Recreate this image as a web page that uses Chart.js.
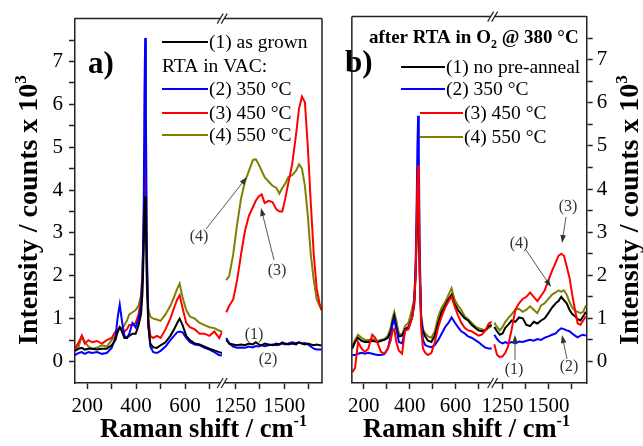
<!DOCTYPE html>
<html>
<head>
<meta charset="utf-8">
<script src="https://cdn.jsdelivr.net/npm/chart.js@4.4.0/dist/chart.umd.min.js"></script>
<style>
  html, body { margin: 0; padding: 0; background: #fff; }
  #wrap { position: relative; width: 643px; height: 446px; }
  #wrap canvas { position: absolute; top: 0; }
  #chartA { left: 0; }
  #chartB { left: 330px; }
</style>
</head>
<body>
<div id="wrap">
  <canvas id="chartA" width="330" height="446"></canvas>
  <canvas id="chartB" width="313" height="446"></canvas>
</div>
<script>
  // Raman shift grids (cm-1), low and high segments of each broken axis
  const shiftLowA = [150, 165, 178, 190, 205, 220, 240, 260, 280, 300, 315, 325, 333, 342, 352, 362, 372, 385, 398, 410,
    420, 426, 431, 434, 437, 440, 444, 450, 458, 470, 485, 500, 520, 540, 555, 568, 578, 590, 605, 620, 640, 660, 680,
    700, 720, 740, 752];
  const shiftHighA = [1205, 1220, 1240, 1260, 1280, 1300, 1320, 1340, 1355, 1370, 1385, 1400, 1420, 1440, 1460, 1475,
    1490, 1505, 1520, 1540, 1560, 1575, 1590, 1605, 1620, 1635, 1650, 1665, 1680, 1690];
  const shiftLowB = [150, 162, 175, 190, 205, 220, 237, 250, 262, 275, 290, 305, 318, 325, 333, 342, 353, 367, 380, 395,
    410, 420, 426, 431, 434, 437, 440, 444, 450, 458, 468, 480, 495, 510, 525, 540, 555, 570, 583, 595, 610, 625, 640,
    655, 670, 685, 700, 715, 730, 745, 758];
  const shiftHighB = [1205, 1220, 1235, 1250, 1265, 1280, 1300, 1320, 1340, 1360, 1380, 1400, 1420, 1440, 1460, 1480,
    1500, 1520, 1540, 1555, 1570, 1585, 1600, 1615, 1630, 1645, 1660, 1675, 1690, 1705];

  // a) RTA in vacuum, intensity in counts x 10^3
  const a1Low = [.25, .3, .32, .28, .3, .3, .28, .3, .3, .38, .5, .7, .8, .7, .55, .55, .6, .65, .65, .85,
    1.1, 1.6, 2.6, 3.5, 3.85, 3.3, 1.8, .8, .42, .33, .32, .38, .45, .6, .75, .9, 1.0, .85, .6, .5, .42, .4, .35,
    .3, .26, .22, .2];
  const a2Low = [.15, .2, .22, .18, .22, .2, .22, .18, .2, .32, .55, 1.05, 1.33, .95, .6, .55, .65, .9, .8, 1.0,
    1.3, 1.9, 3.5, 6.2, 7.55, 5.8, 2.6, .9, .35, .22, .2, .25, .35, .5, .6, .68, .7, .68, .55, .45, .4, .38, .32,
    .28, .22, .15, .15];
  const a3Low = [.3, .45, .6, .42, .5, .45, .48, .42, .5, .55, .7, .75, .8, .78, .7, .75, .85, .85, .9, 1.1,
    1.45, 2.0, 3.3, 4.6, 5.05, 4.3, 2.3, 1.0, .6, .55, .6, .55, .75, 1.0, 1.25, 1.45, 1.55, 1.25, .9, .8, .75, .65,
    .65, .6, .7, .55, .7];
  const a4Low = [.3, .35, .6, .45, .35, .3, .32, .38, .35, .5, .6, .7, .8, .75, .85, .95, 1.1, 1.15, 1.2, 1.3,
    1.55, 2.1, 2.9, 3.3, 3.4, 3.0, 2.0, 1.2, 1.05, 1.0, .98, .95, 1.1, 1.3, 1.5, 1.7, 1.82, 1.5, 1.2, 1.05, 1.0, .9,
    .85, .8, .78, .72, .7];
  const a1High = [.5, .42, .4, .38, .4, .38, .42, .4, .45, .4, .38, .42, .4, .38, .42, .4, .45, .42, .4, .42,
    .4, .45, .42, .4, .42, .4, .38, .4, .38, .38];
  const a2High = [.55, .42, .35, .32, .33, .32, .35, .33, .36, .35, .38, .36, .38, .4, .38, .4, .42, .4, .42, .45,
    .43, .45, .42, .43, .4, .35, .3, .28, .28, .28];
  const a3High = [1.15, 1.3, 1.45, 1.9, 2.5, 3.05, 3.4, 3.6, 3.75, 3.85, 3.9, 3.7, 3.75, 3.72, 3.55, 3.5, 3.5, 3.8,
    4.15, 4.6, 5.3, 5.9, 6.18, 6.05, 5.0, 3.7, 2.5, 1.7, 1.35, 1.2];
  const a4High = [1.9, 2.0, 2.5, 3.2, 3.8, 4.2, 4.45, 4.7, 4.72, 4.6, 4.45, 4.3, 4.2, 4.1, 4.05, 3.92, 4.05, 4.15,
    4.3, 4.35, 4.45, 4.6, 4.5, 4.1, 3.4, 2.5, 1.9, 1.45, 1.3, 1.2];

  // b) after RTA in O2 @ 380 C
  const b1Low = [.3, .45, .55, .48, .45, .45, .48, .46, .45, .48, .5, .55, .7, .9, 1.05, .8, .58, .6, .75, .8,
    1.0, 1.3, 2.0, 3.0, 3.4, 3.5, 3.1, 2.0, 1.0, .7, .58, .48, .45, .6, .9, 1.15, 1.3, 1.45, 1.55, 1.35, 1.2, 1.1,
    1.0, .95, .85, .78, .72, .7, .72, .82, .85];
  const b2Low = [.15, .15, .18, .2, .18, .2, .18, .16, .15, .15, .17, .3, .6, .85, .97, .75, .45, .42, .7, .78,
    1.0, 1.4, 2.2, 3.8, 5.0, 5.7, 4.8, 2.6, 1.0, .5, .38, .35, .33, .38, .5, .65, .8, .9, 1.02, .92, .8, .7, .65,
    .58, .55, .5, .45, .38, .32, .3, .3];
  const b3Low = [-.25, -.15, .45, .3, .22, .3, .62, .55, .4, .22, .18, .3, .5, .7, .75, .45, .25, .18, .72, .75,
    1.0, 1.35, 2.0, 3.3, 4.2, 4.55, 4.0, 2.1, .8, .3, .2, .15, .2, .45, .8, 1.05, 1.25, 1.4, 1.5, 1.3, 1.08, .9,
    .78, .72, .7, .65, .6, .62, .72, .88, .92];
  const b4Low = [.35, .5, .62, .55, .5, .5, .52, .5, .48, .5, .52, .6, .8, 1.0, 1.15, .95, .65, .62, .82, .9,
    1.2, 1.45, 2.1, 3.0, 3.5, 3.6, 3.2, 2.1, 1.1, .75, .65, .58, .55, .7, 1.05, 1.25, 1.38, 1.55, 1.7, 1.45, 1.3,
    1.2, 1.05, .98, .9, .82, .77, .75, .72, .78, .82];
  const b1High = [.8, .7, .62, .65, .78, .85, .95, .92, 1.02, 1.0, .85, .82, .92, .88, .95, 1.0, 1.12, 1.25, 1.35,
    1.4, 1.5, 1.42, 1.35, 1.2, 1.1, 1.05, .98, .95, 1.05, 1.15];
  const b2High = [.62, .52, .45, .42, .45, .42, .45, .42, .46, .45, .48, .5, .48, .52, .5, .55, .58, .62, .65, .72,
    .77, .75, .72, .7, .65, .6, .56, .6, .62, .6];
  const b3High = [.4, .15, .1, .12, .2, .35, .75, 1.2, 1.35, 1.45, 1.5, 1.6, 1.5, 1.4, 1.52, 1.65, 1.88, 2.1, 2.3,
    2.45, 2.5, 2.45, 2.2, 1.95, 1.55, 1.2, .88, .85, .95, 1.05];
  const b4High = [.9, .8, .72, .8, .92, 1.0, 1.1, 1.2, 1.22, 1.15, 1.2, 1.28, 1.2, 1.12, 1.3, 1.35, 1.45, 1.55,
    1.6, 1.65, 1.62, 1.65, 1.55, 1.38, 1.25, 1.18, 1.15, 1.12, 1.15, 1.3];

  const namesA = ['(1) as grown', '(2) 350 °C', '(3) 450 °C', '(4) 550 °C'];
  const namesB = ['(1) no pre-anneal', '(2) 350 °C', '(3) 450 °C', '(4) 550 °C'];
  const seriesColors = ['#000000', '#0000ff', '#ff0000', '#808000'];

  // tick positions and labels
  const lowTicks = [200, 300, 400, 500, 600, 700];
  const lowLabels = [200, 400, 600];
  const highTicks = [1250, 1375, 1500, 1625];
  const highLabels = [1250, 1500];
  const yTicks = [0, 0.5, 1, 1.5, 2, 2.5, 3, 3.5, 4, 4.5, 5, 5.5, 6, 6.5, 7, 7.5];
  const yLabels = [0, 1, 2, 3, 4, 5, 6, 7];

  const SERIF = "'Liberation Serif', 'Times New Roman', serif";
  const INK = '#222';

  function font(size, bold) {
    return (bold ? 'bold ' : '') + size + 'px ' + SERIF;
  }

  function richText(ctx, parts, x, y) {
    let cx = x;
    parts.forEach((p) => {
      ctx.font = font(p.size, p.bold);
      ctx.fillText(p.t, cx, y + (p.dy || 0));
      cx += ctx.measureText(p.t).width;
    });
  }

  function drawBreak(ctx, x, y) {
    ctx.fillStyle = '#fff';
    ctx.fillRect(x - 2, y - 2, 4, 4);
    ctx.strokeStyle = INK;
    ctx.lineWidth = 1.2;
    ctx.beginPath();
    [-2, 2].forEach((d) => {
      ctx.moveTo(x + d - 3, y + 5);
      ctx.lineTo(x + d + 3, y - 5);
    });
    ctx.stroke();
  }

  function drawArrow(ctx, [x0, y0, x1, y1]) {
    const a = Math.atan2(y1 - y0, x1 - x0);
    ctx.strokeStyle = '#555';
    ctx.fillStyle = '#333';
    ctx.lineWidth = 1;
    ctx.beginPath();
    ctx.moveTo(x0, y0);
    ctx.lineTo(x1 - 5 * Math.cos(a), y1 - 5 * Math.sin(a));
    ctx.stroke();
    ctx.beginPath();
    ctx.moveTo(x1, y1);
    ctx.lineTo(x1 - 8 * Math.cos(a) + 2.8 * Math.sin(a), y1 - 8 * Math.sin(a) - 2.8 * Math.cos(a));
    ctx.lineTo(x1 - 8 * Math.cos(a) - 2.8 * Math.sin(a), y1 - 8 * Math.sin(a) + 2.8 * Math.cos(a));
    ctx.closePath();
    ctx.fill();
  }

  function decorPlugin(p) {
    return {
      id: 'decor',
      afterDraw(chart) {
        const ctx = chart.ctx;
        const area = chart.chartArea;
        const split = chart.scales.x1.right;
        ctx.save();

        // remaining frame sides
        ctx.strokeStyle = INK;
        ctx.lineWidth = 1.5;
        ctx.beginPath();
        ctx.moveTo(area.left, area.top);
        ctx.lineTo(area.right, area.top);
        const side = p.yPos === 'right' ? area.left : area.right;
        ctx.moveTo(side, area.top);
        ctx.lineTo(side, area.bottom);
        ctx.stroke();
        drawBreak(ctx, split, area.top);
        drawBreak(ctx, split, area.bottom);

        ctx.fillStyle = '#000';
        ctx.textAlign = 'left';
        ctx.textBaseline = 'alphabetic';

        // axis titles
        richText(ctx, [{ t: 'Raman shift / cm', size: 26.5, bold: true },
          { t: '-1', size: 16, bold: true, dy: -11 }], p.xTitle[0], p.xTitle[1]);
        ctx.save();
        ctx.translate(p.yTitle[0], p.yTitle[1]);
        ctx.rotate(-Math.PI / 2);
        richText(ctx, [{ t: 'Intensity / counts x 10', size: 28, bold: true },
          { t: '3', size: 17, bold: true, dy: -11 }], 0, 0);
        ctx.restore();

        // panel tag
        ctx.font = font(31, true);
        ctx.fillText(p.tag[0], p.tag[1], p.tag[2]);

        // legend heading
        p.heads.forEach((h) => richText(ctx, h.parts, h.x, h.y));

        // legend rows
        p.legend.forEach((row, i) => {
          ctx.strokeStyle = seriesColors[i];
          ctx.lineWidth = 2;
          ctx.beginPath();
          ctx.moveTo(row[0], row[2]);
          ctx.lineTo(row[1], row[2]);
          ctx.stroke();
          ctx.fillStyle = '#000';
          ctx.font = font(19.5, false);
          ctx.fillText(p.names[i], row[1] + 1, row[2] + 5.5);
        });

        // curve annotations
        ctx.fillStyle = '#333';
        ctx.font = font(16, false);
        ctx.textAlign = 'center';
        ctx.textBaseline = 'middle';
        p.notes.forEach(([t, x, y]) => ctx.fillText(t, x, y));
        p.arrows.forEach((a) => drawArrow(ctx, a));
        ctx.restore();
      }
    };
  }

  function xScale(range, weight, ticks, labels) {
    return {
      type: 'linear',
      position: 'bottom',
      stack: 'shift',
      stackWeight: weight,
      min: range[0],
      max: range[1],
      afterBuildTicks: (s) => { s.ticks = ticks.map((v) => ({ value: v })); },
      afterFit: (s) => { s.height = 63; },
      ticks: {
        autoSkip: false,
        maxRotation: 0,
        padding: 5,
        color: '#000',
        font: { family: SERIF, size: 21 },
        callback: (v) => (labels.includes(v) ? String(v) : '')
      },
      grid: { drawOnChartArea: false, tickLength: 6, tickColor: INK, tickWidth: 1.5 },
      border: { color: INK, width: 1.5 }
    };
  }

  function buildDatasets(lowX, highX, lows, highs, order) {
    const sets = [];
    lows.forEach((ys, i) => {
      const common = {
        borderColor: seriesColors[i],
        borderWidth: 2,
        pointRadius: 0,
        fill: false,
        tension: 0,
        order: order[i]
      };
      sets.push({ ...common, xAxisID: 'x1', data: lowX.map((x, j) => ({ x, y: ys[j] })) });
      sets.push({ ...common, xAxisID: 'x2', data: highX.map((x, j) => ({ x, y: highs[i][j] })) });
    });
    return sets;
  }

  function makePanel(canvasId, p) {
    return new Chart(document.getElementById(canvasId), {
      type: 'line',
      data: { datasets: buildDatasets(p.lowX, p.highX, p.lows, p.highs, p.order) },
      options: {
        responsive: false,
        animation: false,
        layout: { padding: p.padding },
        plugins: { legend: { display: false }, tooltip: { enabled: false } },
        scales: {
          x1: xScale(p.lowRange, p.weights[0], lowTicks, lowLabels),
          x2: xScale(p.highRange, p.weights[1], highTicks, highLabels),
          y: {
            type: 'linear',
            position: p.yPos,
            min: -0.5,
            max: 8,
            afterBuildTicks: (s) => { s.ticks = yTicks.map((v) => ({ value: v })); },
            afterFit: (s) => { s.width = p.yWidth; },
            ticks: {
              autoSkip: false,
              padding: p.yPad,
              color: '#000',
              font: { family: SERIF, size: 21 },
              callback: (v) => (yLabels.includes(v) ? String(v) : '')
            },
            grid: { drawOnChartArea: false, tickLength: 6, tickColor: INK, tickWidth: 1.5 },
            border: { color: INK, width: 1.5 }
          }
        }
      },
      plugins: [decorPlugin(p)]
    });
  }

  makePanel('chartA', {
    lowX: shiftLowA, highX: shiftHighA,
    lows: [a1Low, a2Low, a3Low, a4Low], highs: [a1High, a2High, a3High, a4High],
    order: [0, 1, 2, 3],
    padding: { left: 0, right: 8, top: 14, bottom: 0 },
    lowRange: [150, 752], highRange: [1184, 1692], weights: [147, 99.7],
    yPos: 'left', yWidth: 75, yPad: 6,
    xTitle: [100, 437], yTitle: [37, 345],
    tag: ['a)', 88, 73],
    names: namesA,
    heads: [{ x: 162, y: 72, parts: [{ t: 'RTA in VAC:', size: 19.5 }] }],
    legend: [[162, 208, 42], [162, 208, 89], [162, 208, 113], [162, 208, 135]],
    notes: [['(4)', 199, 237], ['(3)', 277, 271], ['(1)', 254, 335], ['(2)', 268, 360]],
    arrows: [[206, 229, 247, 177], [274, 260, 261, 208]]
  });

  makePanel('chartB', {
    lowX: shiftLowB, highX: shiftHighB,
    lows: [b1Low, b2Low, b3Low, b4Low], highs: [b1High, b2High, b3High, b4High],
    order: [2, 1, 0, 3],
    padding: { left: 7, right: 0, top: 14, bottom: 0 },
    lowRange: [148, 762], highRange: [1196, 1709], weights: [149.7, 100],
    yPos: 'right', yWidth: 56.3, yPad: 4,
    xTitle: [33, 437], yTitle: [308, 345],
    tag: ['b)', 15, 72],
    names: namesB,
    heads: [{ x: 39, y: 43, parts: [
      { t: 'after RTA in O', size: 19, bold: true },
      { t: '2', size: 12, bold: true, dy: 5 },
      { t: ' @ 380 °C', size: 19, bold: true }
    ] }],
    legend: [[71, 115, 67], [71, 115, 89], [90, 133, 113], [90, 133, 137]],
    notes: [['(3)', 238, 207], ['(4)', 189, 244], ['(1)', 184, 370], ['(2)', 239, 367]],
    arrows: [[236, 217, 232, 243], [196, 250, 221, 287], [185, 360, 185, 335], [237, 359, 232, 335]]
  });
</script>
</body>
</html>
